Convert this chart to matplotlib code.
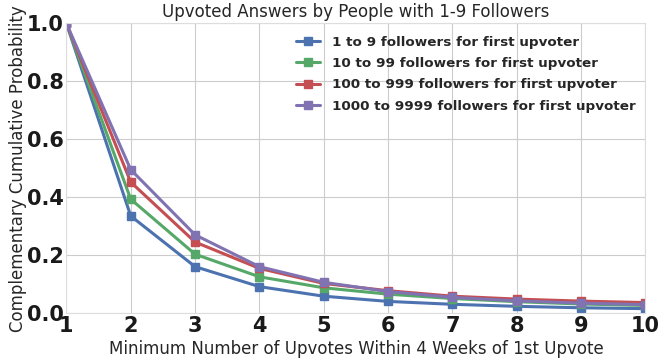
import matplotlib
matplotlib.use('Agg')
import matplotlib.pyplot as plt
import seaborn as sns

# Minimum number of upvotes within 4 weeks
min_upvotes = [1, 2, 3, 4, 5, 6, 7, 8, 9, 10]

# Complementary cumulative probability per follower bucket of first upvoter
series_labels = [
    "1 to 9 followers for first upvoter",
    "10 to 99 followers for first upvoter",
    "100 to 999 followers for first upvoter",
    "1000 to 9999 followers for first upvoter",
]
ccdf_1_9 = [1.0, 0.335, 0.16, 0.091, 0.058, 0.040, 0.030, 0.023, 0.018, 0.015]
ccdf_10_99 = [1.0, 0.393, 0.203, 0.125, 0.087, 0.065, 0.050, 0.039, 0.031, 0.026]
ccdf_100_999 = [1.0, 0.452, 0.245, 0.154, 0.102, 0.077, 0.058, 0.048, 0.041, 0.036]
ccdf_1000_9999 = [1.0, 0.495, 0.27, 0.16, 0.106, 0.074, 0.054, 0.042, 0.034, 0.029]

colors = ["#4C72B0", "#55A868", "#C44E52", "#8172B2"]

sns.set_style("whitegrid")
plt.rcParams['font.family'] = ['DejaVu Sans']

fig, ax = plt.subplots(figsize=(6.64, 3.61), dpi=100)

for values, label, color in zip([ccdf_1_9, ccdf_10_99, ccdf_100_999, ccdf_1000_9999], series_labels, colors):
    ax.plot(min_upvotes, values, marker='s', markersize=6, linewidth=2.2, color=color, label=label)

ax.set_xlim(1, 10)
ax.set_ylim(0, 1.0)
ax.set_xticks(min_upvotes)
ax.set_yticks([0.0, 0.2, 0.4, 0.6, 0.8, 1.0])
for lbl in ax.get_xticklabels() + ax.get_yticklabels():
    lbl.set_fontweight('bold')
    lbl.set_fontsize(15)
    lbl.set_color('#1a1a1a')
ax.tick_params(axis='both', pad=2, length=0)

# Title and axis labels
ax.set_title("Upvoted Answers by People with 1-9 Followers", fontsize=12, pad=5, color='#262626')
ax.set_xlabel("Minimum Number of Upvotes Within 4 Weeks of 1st Upvote", fontsize=12, labelpad=3, color='#262626')
ax.set_ylabel("Complementary Cumulative Probability", fontsize=12, labelpad=0, color='#262626')

for spine in ax.spines.values():
    spine.set_color('#dddddd')

ax.legend(loc='upper right', frameon=False, prop={'weight': 'bold', 'size': 9.7},
          handlelength=1.8, handletextpad=0.9, labelspacing=0.62, borderaxespad=0.3,
          bbox_to_anchor=(1.0, 0.99))

plt.subplots_adjust(left=0.1, right=0.972, top=0.935, bottom=0.133)
fig.savefig("out.png", dpi=100)
